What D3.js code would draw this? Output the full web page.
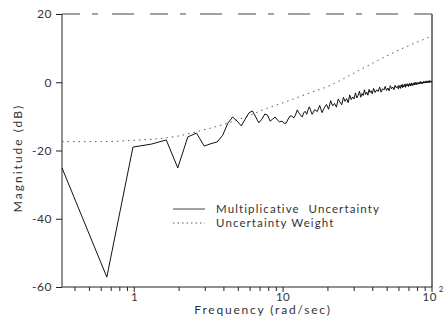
<!DOCTYPE html>
<html>
<head>
<meta charset="utf-8">
<script src="https://cdn.jsdelivr.net/npm/d3@7"></script>
<style>
  html, body { margin: 0; padding: 0; background: #fff; }
  svg { display: block; }
  text { font-family: Lato, "DejaVu Sans", sans-serif; fill: #333; }
</style>
</head>
<body>
<svg id="chart" width="445" height="323"></svg>
<script>
// Measured multiplicative uncertainty (rad/sec, dB)
const multFreq = [
  0.327, 0.654, 0.98, 1.31, 1.64, 1.96, 2.29, 2.62, 2.95, 3.27,
  3.60, 3.93, 4.25, 4.58, 4.91, 5.24, 5.56, 5.89, 6.22, 6.55,
  6.87, 7.20, 7.53, 7.85, 8.18, 8.51, 8.84, 9.16, 9.49, 9.82,
  10.15, 10.47, 10.80, 11.13, 11.45, 11.78, 12.11, 12.44, 12.76, 13.09,
  13.42, 13.74, 14.07, 14.40, 14.73,
  15.0, 15.65, 16.3, 16.95, 17.6, 18.25, 18.9, 19.55, 20.2, 20.85,
  21.5, 22.15, 22.8, 23.45, 24.1, 24.75, 25.4, 26.05, 26.7, 27.35,
  28.0, 28.65, 29.3, 29.95, 30.6, 31.25, 31.9, 32.55, 33.2, 33.85,
  34.5, 35.15, 35.8, 36.45, 37.1, 37.75, 38.4, 39.05, 39.7,
  40.5, 41.5, 42.5, 43.5, 44.5, 45.5, 46.5, 47.5, 48.5, 49.5,
  50.5, 51.5, 52.5, 53.5, 54.5, 55.5, 56.5, 57.5, 58.5, 59.5,
  60.0, 60.5, 61.0, 61.5, 62.0, 62.5, 63.0, 63.5, 64.0, 64.5,
  65.0, 65.5, 66.0, 66.5, 67.0, 67.5, 68.0, 68.5, 69.0, 69.5,
  70.0, 70.5, 71.0, 71.5, 72.0, 72.5, 73.0, 73.5, 74.0, 74.5,
  75.0, 75.5, 76.0, 76.5, 77.0, 77.5, 78.0, 78.5, 79.0, 79.5,
  80.0, 80.5, 81.0, 81.5, 82.0, 82.5, 83.0, 83.5, 84.0, 84.5,
  85.0, 85.5, 86.0, 86.5, 87.0, 87.5, 88.0, 88.5, 89.0, 89.5,
  90.0, 90.5, 91.0, 91.5, 92.0, 92.5, 93.0, 93.5, 94.0, 94.5,
  95.0, 95.5, 96.0, 96.5, 97.0, 97.5, 98.0, 98.5, 99.0, 99.5, 100.0
];
const multDb = [
  -25.1, -57.1, -19.0, -18.1, -16.9, -25.1, -16.0, -14.9, -18.7, -18.0,
  -17.5, -15.5, -12.0, -10.2, -11.4, -12.8, -10.8, -9.0, -8.4, -10.2,
  -11.9, -10.8, -9.3, -9.6, -11.4, -10.8, -10.2, -11.1, -11.6, -11.4,
  -12.0, -12.0, -10.8, -9.9, -9.9, -10.5, -9.6, -8.1, -9.0, -9.6,
  -10.2, -9.0, -8.5, -9.4, -8.0,
  -7.2, -9.4, -8.0, -8.6, -6.8, -8.9, -7.5, -6.5, -7.9, -5.4,
  -6.9, -6.2, -7.3, -4.9, -5.8, -6.6, -4.4, -5.6, -4.8, -6.0,
  -3.7, -5.1, -4.3, -4.9, -3.1, -4.6, -3.9, -2.6, -4.4, -3.3,
  -3.9, -2.2, -3.6, -2.9, -3.8, -2.1, -3.0, -2.5, -3.4,
  -1.8, -3.0, -2.2, -2.7, -1.4, -2.9, -1.9, -2.3, -1.2, -2.4,
  -1.7, -2.5, -1.0, -1.9, -1.4, -2.2, -0.9, -1.6, -1.2, -2.0,
  -0.9, -1.5, -1.1, -1.8, -0.8, -1.3, -0.6, -1.6, -1.0, -1.4,
  -0.7, -1.2, -0.5, -1.5, -0.9, -1.1, -0.4, -1.0, -0.7, -1.3,
  -0.5, -0.9, -0.3, -1.1, -0.6, -0.8, -0.2, -1.0, -0.5, -0.9,
  -0.3, -0.7, -0.1, -0.8, -0.4, -0.6, 0.0, -0.7, -0.3, -0.5,
  -0.1, -0.6, -0.2, -0.4, 0.1, -0.5, -0.2, -0.3, 0.2, -0.4,
  -0.1, -0.3, 0.1, -0.4, 0.0, -0.2, 0.3, -0.3, 0.0, -0.1,
  0.3, -0.2, 0.1, -0.1, 0.4, -0.2, 0.1, 0.0, 0.4, -0.1,
  0.2, 0.0, 0.5, -0.1, 0.2, 0.1, 0.4, 0.0, 0.3, 0.1, 0.2
];

// Uncertainty weight magnitude (rad/sec, dB)
const weightFreq = [0.327, 0.6, 1.0, 1.4, 1.83, 2.9, 4.9, 8.2, 10, 14.5, 20, 34, 57, 87, 100];
const weightDb   = [-17.4, -17.4, -17.0, -16.6, -16.0, -14.0, -11.1, -7.3, -6.0, -3.4, -1.2, 4.0, 9.0, 12.5, 13.6];

const yTicks = [20, 0, -20, -40, -60];
const xMajor = [1, 10, 100];
const xMinor = [0.4, 0.5, 0.6, 0.7, 0.8, 0.9, 2, 3, 4, 5, 6, 7, 8, 9, 20, 30, 40, 50, 60, 70, 80, 90];
const legendLabels = [["Multiplicative", "Uncertainty", 9], ["Uncertainty", "Weight", 4]];

const svg = d3.select("#chart");
const plotL = 62, plotR = 432, plotT = 14, plotB = 287;

const x = d3.scaleLog().domain([0.327, 100]).range([plotL, plotR]);
const y = d3.scaleLinear().domain([-60, 20]).range([plotB, plotT]);

// frame
const frame = svg.append("g").attr("stroke", "#222").attr("fill", "none");
frame.append("line").attr("x1", plotL).attr("x2", plotL).attr("y1", plotT).attr("y2", plotB).attr("stroke-width", 1);
frame.append("line").attr("x1", plotR).attr("x2", plotR).attr("y1", plotT).attr("y2", plotB).attr("stroke-width", 1.2);
frame.append("line").attr("x1", plotL).attr("x2", plotR).attr("y1", plotB).attr("y2", plotB).attr("stroke-width", 1);
frame.append("line").attr("x1", plotL).attr("x2", plotR).attr("y1", plotT).attr("y2", plotT)
  .attr("stroke-width", 1).attr("stroke-dasharray", "18,12,6,14,22,16").attr("stroke", "#444");

// y axis
const yAxis = d3.axisLeft(y).tickValues(yTicks).tickSize(6).tickPadding(4)
  .tickFormat(d => d < 0 ? "-" + Math.abs(d) : d);
const gy = svg.append("g").attr("transform", `translate(${plotL},0)`).call(yAxis);
gy.select(".domain").remove();
gy.selectAll("line").attr("stroke", "#222");
gy.selectAll("text").attr("font-size", 12).attr("fill", "#444").attr("letter-spacing", 0.5)
  .style("font-family", "Lato, 'DejaVu Sans', sans-serif");

// x axis: minor and major ticks
const gx = svg.append("g").attr("transform", `translate(0,${plotB})`);
gx.selectAll("line.minor").data(xMinor).join("line")
  .attr("class", "minor")
  .attr("x1", d => x(d)).attr("x2", d => x(d))
  .attr("y1", 0).attr("y2", 4).attr("stroke", "#222");
gx.selectAll("line.major").data(xMajor).join("line")
  .attr("class", "major")
  .attr("x1", d => x(d)).attr("x2", d => x(d))
  .attr("y1", 0).attr("y2", 5).attr("stroke", "#222");

const xl = svg.append("g").attr("font-size", 11.5).attr("fill", "#444");
xl.append("text").attr("x", x(1)).attr("y", 301).attr("text-anchor", "middle").text("1");
xl.append("text").attr("x", x(10)).attr("y", 301).attr("text-anchor", "middle").attr("letter-spacing", 0.5).text("10");
const t100 = xl.append("text").attr("x", x(100) + 1).attr("y", 301).attr("text-anchor", "middle");
t100.append("tspan").attr("letter-spacing", 0.5).text("10");
t100.append("tspan").attr("dy", -9).attr("dx", 2).attr("font-size", 8).text("2");

// axis titles
svg.append("text").attr("x", 263).attr("y", 314).attr("text-anchor", "middle")
  .attr("font-size", 12).attr("letter-spacing", 1.8).text("Frequency (rad/sec)");
svg.append("text").attr("transform", "translate(22,158) rotate(-90)").attr("text-anchor", "middle")
  .attr("font-size", 12).attr("letter-spacing", 2).text("Magnitude (dB)");

// series
const multPts = multFreq.map((f, i) => [f, multDb[i]]);
const weightPts = weightFreq.map((f, i) => [f, weightDb[i]]);

svg.append("path").datum(weightPts)
  .attr("fill", "none").attr("stroke", "#555").attr("stroke-width", 1)
  .attr("stroke-dasharray", "1.5,4")
  .attr("d", d3.line().x(d => x(d[0])).y(d => y(d[1])).curve(d3.curveMonotoneX));

svg.append("path").datum(multPts)
  .attr("fill", "none").attr("stroke", "#111").attr("stroke-width", 1)
  .attr("stroke-linejoin", "round")
  .attr("d", d3.line().x(d => x(d[0])).y(d => y(d[1])));

// legend
const lg = svg.append("g");
lg.append("line").attr("x1", 173).attr("x2", 205).attr("y1", 209).attr("y2", 209)
  .attr("stroke", "#444").attr("stroke-width", 1);
lg.append("line").attr("x1", 173).attr("x2", 205).attr("y1", 223).attr("y2", 223)
  .attr("stroke", "#555").attr("stroke-width", 1).attr("stroke-dasharray", "1.5,3");
lg.selectAll("text").data(legendLabels).join("text")
  .attr("x", 216).attr("y", (d, i) => 213 + i * 14)
  .attr("font-size", 11.5).attr("letter-spacing", 1.1)
  .each(function (d) {
    const t = d3.select(this);
    t.append("tspan").text(d[0]);
    t.append("tspan").attr("dx", d[2]).text(d[1]);
  });
</script>
</body>
</html>
